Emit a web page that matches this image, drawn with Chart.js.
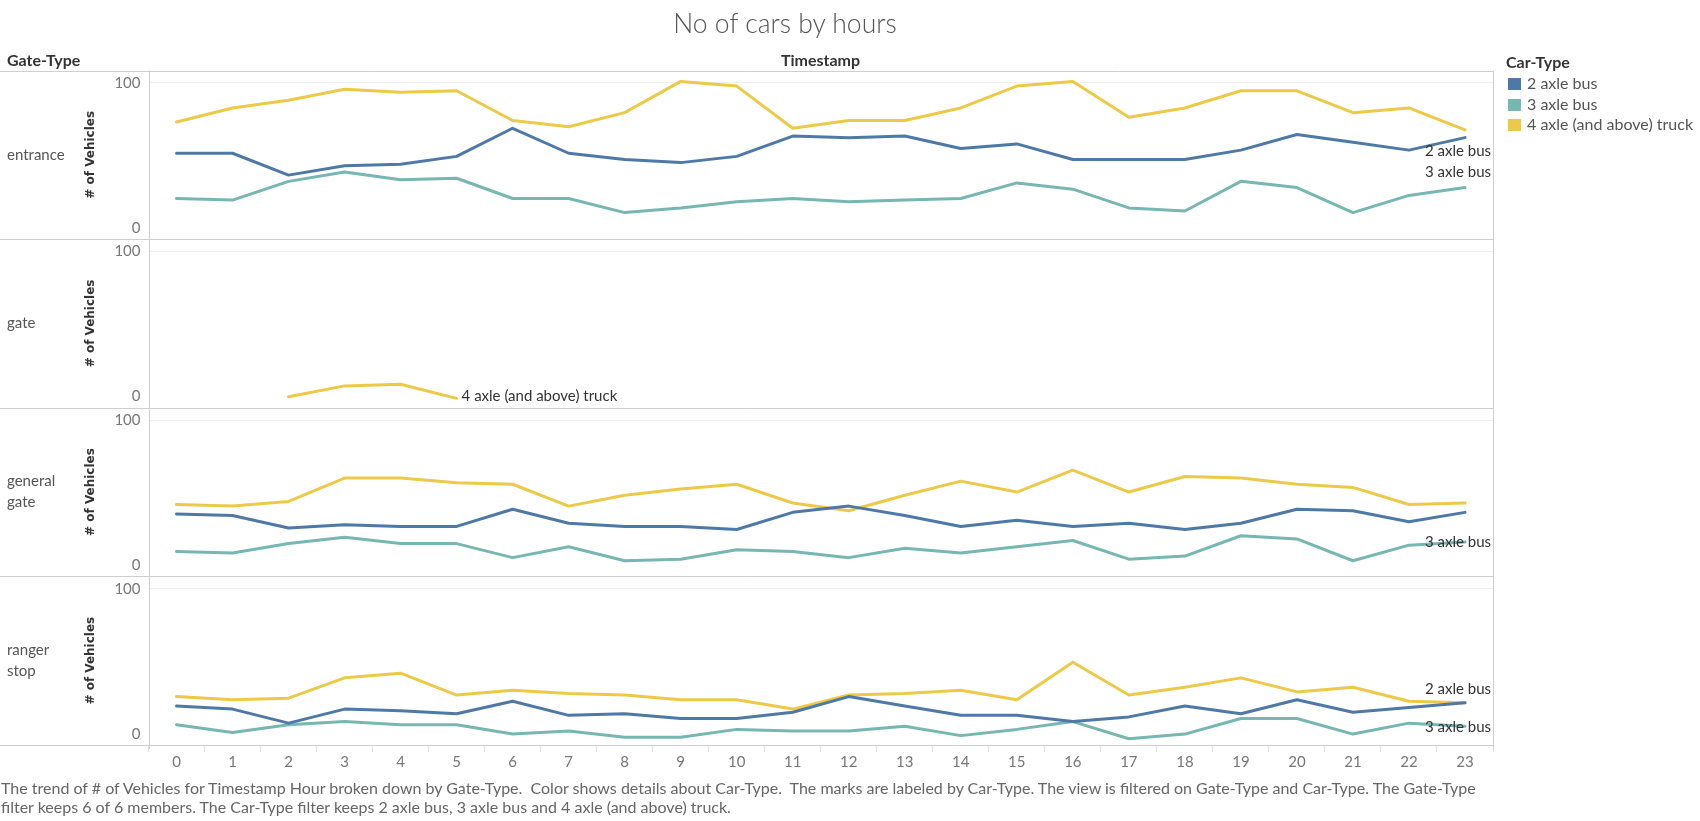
<!DOCTYPE html>
<html>
<head>
<meta charset="utf-8">
<script src="https://cdn.jsdelivr.net/npm/chart.js"></script>
<style>
  html, body { margin: 0; padding: 0; background: #fff; }
  body { width: 1700px; height: 821px; position: relative; overflow: hidden; font-family: Lato, "Open Sans", sans-serif; }
  #chart { position: absolute; left: 0; top: 0; }
  .txt { position: absolute; white-space: nowrap; }
  #title { left: 0; width: 1570px; top: 7px; text-align: center; font-size: 26.5px; font-weight: 300; color: #555; }
  #gateHdr { left: 7px; top: 50px; font-size: 16px; font-weight: bold; color: #333; }
  #timeHdr { left: 148px; width: 1345px; top: 50px; text-align: center; font-size: 16px; font-weight: bold; color: #333; }
  #legend { left: 1506px; top: 52px; color: #555; font-size: 16px; }
  #legend .head { font-weight: bold; color: #333; margin-bottom: 2px; }
  #legend .row { height: 20.7px; line-height: 20.7px; }
  #legend .sw { display: inline-block; width: 13px; height: 12px; margin: 0 6px 0 2px; vertical-align: -1px; }
  #footer { left: 1px; top: 778px; font-size: 16px; color: #666; line-height: 19px; }
</style>
</head>
<body>
<canvas id="chart" width="1700" height="821"></canvas>
<div class="txt" id="title">No of cars by hours</div>
<div class="txt" id="gateHdr">Gate-Type</div>
<div class="txt" id="timeHdr">Timestamp</div>
<div class="txt" id="legend"></div>
<div class="txt" id="footer">The trend of # of Vehicles for Timestamp Hour broken down by Gate-Type.&nbsp; Color shows details about Car-Type.&nbsp; The marks are labeled by Car-Type. The view is filtered on Gate-Type and Car-Type. The Gate-Type<br>filter keeps 6 of 6 members. The Car-Type filter keeps 2 axle bus, 3 axle bus and 4 axle (and above) truck.</div>
<script>
// ---------- dados ----------
const hours = ["0","1","2","3","4","5","6","7","8","9","10","11","12","13","14","15","16","17","18","19","20","21","22","23"];
const carTypes = ["2 axle bus", "3 axle bus", "4 axle (and above) truck"];
const carColors = ["#4e79a7", "#76b7b2", "#edc948"];
const gateTypes = ["entrance", "gate", "general gate", "ranger stop"];
const gateLines = [["entrance"], ["gate"], ["general", "gate"], ["ranger", "stop"]];
const yTicks = [0, 50, 100];

const entrance2axle = [55,55,41,47,48,53,71,55,51,49,53,66,65,66,58,61,51,51,51,57,67,62,57,65];
const entrance3axle = [26,25,37,43,38,39,26,26,17,20,24,26,24,25,26,36,32,20,18,37,33,17,28,33];
const entrance4axle = [75,84,89,96,94,95,76,72,81,101,98,71,76,76,84,98,101,78,84,95,95,81,84,70];

const gate4axle = [null,null,7,14,15,6,null,null,null,null,null,null,null,null,null,null,null,null,null,null,null,null,null,null];

const general2axle = [40,39,31,33,32,32,43,34,32,32,30,41,45,39,32,36,32,34,30,34,43,42,35,41];
const general3axle = [16,15,21,25,21,21,12,19,10,11,17,16,12,18,15,19,23,11,13,26,24,10,20,22];
const general4axle = [46,45,48,63,63,60,59,45,52,56,59,47,42,52,61,54,68,54,64,63,59,57,46,47];

const ranger2axle = [25,23,14,23,22,20,28,19,20,17,17,21,31,25,19,19,15,18,25,20,29,21,24,27];
const ranger3axle = [13,8,13,15,13,13,7,9,5,5,10,9,9,12,6,10,15,4,7,17,17,7,14,12];
const ranger4axle = [31,29,30,43,46,32,35,33,32,29,29,23,32,33,35,29,53,32,37,43,34,37,28,27];

// série por painel: [painel, tipo, valores]
const series = [
  [0, 0, entrance2axle], [0, 1, entrance3axle], [0, 2, entrance4axle],
  [1, 2, gate4axle],
  [2, 0, general2axle], [2, 1, general3axle], [2, 2, general4axle],
  [3, 0, ranger2axle], [3, 1, ranger3axle], [3, 2, ranger4axle],
];

// rótulos no fim das linhas (índice da série, alinhamento, deslocamento)
const endLabels = [
  { s: 0, align: "right", dy: 14 },
  { s: 1, align: "right", dy: -15 },
  { s: 3, align: "left", dy: -2 },
  { s: 5, align: "right", dy: 0 },
  { s: 7, align: "right", dy: -14 },
  { s: 8, align: "right", dy: 1 },
];

// ---------- legenda ----------
const leg = document.getElementById("legend");
leg.innerHTML = '<div class="head">Car-Type</div>' + carTypes.map((c, i) =>
  `<div class="row"><span class="sw" style="background:${carColors[i]}"></span>${c}</div>`).join("");

const FONT = "Lato, 'Open Sans', sans-serif";

// ---------- escalas ----------
const scales = {
  x: {
    type: "category",
    offset: true,
    grid: { offset: true, drawOnChartArea: false, tickLength: 7, color: "#e2e2e2" },
    border: { display: false },
    ticks: { color: "#777", font: { family: FONT, size: 15 }, padding: 1, maxRotation: 0, autoSkip: false },
    afterFit: (s) => { s.height = 76; },
  },
};
// eixos empilhados: o primeiro declarado fica embaixo
for (let i = gateTypes.length - 1; i >= 0; i--) {
  scales["y" + i] = {
    type: "linear",
    position: "left",
    stack: "gates",
    stackWeight: 1,
    min: 0,
    max: 108,
    afterBuildTicks: (s) => { s.ticks = yTicks.map((v) => ({ value: v })); },
    afterFit: (s) => { s.width = 64.5; },
    grid: { drawTicks: false, color: (c) => (c.tick && c.tick.value === 0 ? "rgba(0,0,0,0)" : "#efefef") },
    border: { display: false },
    ticks: {
      color: "#777",
      padding: 8,
      font: { family: FONT, size: 15, lineHeight: 1.5 },
      callback: (v) => (v === 0 ? ["0", ""] : String(v)),
    },
    title: { display: true, text: "# of Vehicles", color: "#333", padding: 0, font: { family: "'DejaVu Sans', sans-serif", size: 12, weight: "bold" } },
  };
}

const datasets = series.map(([p, c, vals]) => ({
  label: carTypes[c],
  data: vals,
  yAxisID: "y" + p,
  borderColor: carColors[c],
  backgroundColor: carColors[c],
  borderWidth: 3,
  pointRadius: 0,
  tension: 0,
  spanGaps: false,
  borderJoinStyle: "round",
  borderCapStyle: "round",
}));

// ---------- moldura estilo Tableau ----------
const frame = {
  id: "frame",
  beforeDatasetsDraw(chart) {
    const { ctx, chartArea: a } = chart;
    ctx.save();
    ctx.strokeStyle = "#cfcfcf";
    ctx.lineWidth = 1;
    ctx.beginPath();
    gateTypes.forEach((g, i) => {
      const s = chart.scales["y" + i];
      [s.top, s.bottom].forEach((y) => {
        const yy = Math.round(y) + 0.5;
        ctx.moveTo(0, yy);
        ctx.lineTo(a.right, yy);
      });
    });
    [a.left, a.right].forEach((x) => {
      const xx = Math.round(x) + 0.5;
      ctx.moveTo(xx, a.top);
      ctx.lineTo(xx, a.bottom + 4);
    });
    ctx.stroke();
    ctx.restore();
  },
  afterDatasetsDraw(chart) {
    const { ctx, chartArea: a } = chart;
    ctx.save();
    ctx.font = `15px ${FONT}`;
    ctx.fillStyle = "#333";
    ctx.textBaseline = "middle";
    endLabels.forEach((l) => {
      const [p, c, vals] = series[l.s];
      let last = vals.length - 1;
      while (vals[last] == null) last--;
      const x = chart.scales.x.getPixelForValue(last);
      const y = chart.scales["y" + p].getPixelForValue(vals[last]) + l.dy;
      if (l.align === "right") {
        ctx.textAlign = "right";
        ctx.fillText(carTypes[c], a.right - 2, y);
      } else {
        ctx.textAlign = "left";
        ctx.fillText(carTypes[c], x + 5, y);
      }
    });
    ctx.restore();
  },
  afterDraw(chart) {
    const { ctx } = chart;
    ctx.save();
    ctx.font = `15px ${FONT}`;
    ctx.fillStyle = "#555";
    ctx.textAlign = "left";
    ctx.textBaseline = "middle";
    gateLines.forEach((lines, i) => {
      const s = chart.scales["y" + i];
      const mid = (s.top + s.bottom) / 2;
      lines.forEach((t, k) => {
        ctx.fillText(t, 7, mid + (k - (lines.length - 1) / 2) * 21);
      });
    });
    ctx.restore();
  },
};

new Chart(document.getElementById("chart"), {
  type: "line",
  data: { labels: hours, datasets },
  options: {
    responsive: false,
    animation: false,
    devicePixelRatio: 1,
    layout: { padding: { left: 84, right: 207, top: 70.5, bottom: 0 } },
    plugins: { legend: { display: false }, tooltip: { enabled: false } },
    scales,
  },
  plugins: [frame],
});
</script>
</body>
</html>
